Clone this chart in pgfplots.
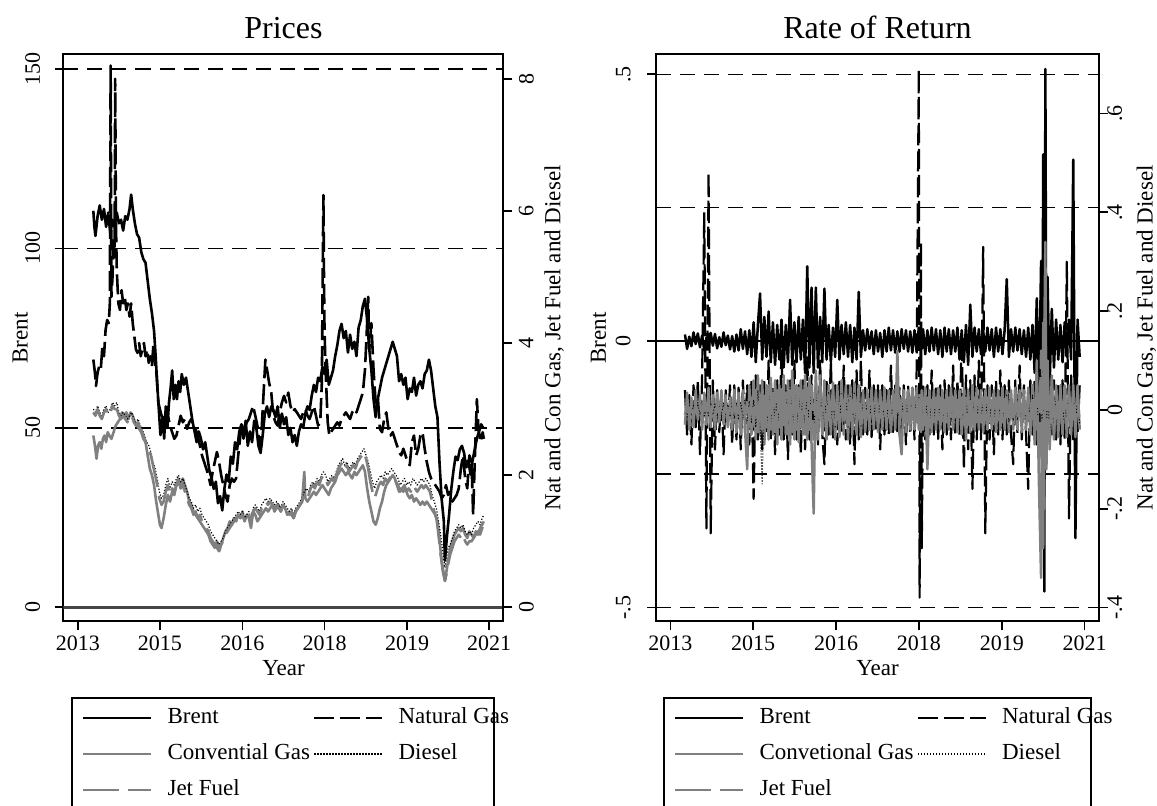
\documentclass[border=0pt]{standalone}
\usepackage{fontspec}
\setmainfont{Liberation Serif}
\usepackage{pgfplots}
\usepackage{pgfplotstable}
\pgfplotsset{compat=1.18}
\definecolor{sgray}{RGB}{128,128,128}
\definecolor{zgray}{RGB}{70,70,70}

% ---------------- Prices ----------------
\pgfplotstableread[row sep=\\]{x y\\
2013.70 110.5\\ 2013.72 106\\ 2013.74 103.5\\ 2013.78 109\\ 2013.82 112\\ 2013.86 108\\ 2013.90 111\\ 2013.94 106\\ 2013.98 110\\ 2014.02 104\\
2014.06 108\\ 2014.10 106\\ 2014.14 110\\ 2014.18 107\\ 2014.22 108\\ 2014.26 105\\ 2014.30 109\\ 2014.34 108\\ 2014.38 111\\ 2014.41 115\\
2014.44 111\\ 2014.48 107\\ 2014.52 104\\ 2014.56 103\\ 2014.60 99\\ 2014.64 97\\ 2014.68 96\\ 2014.72 91\\ 2014.76 86\\ 2014.80 82\\
2014.84 77\\ 2014.87 70\\ 2014.90 62\\ 2014.93 55\\ 2014.96 48\\ 2015.00 53\\ 2015.03 47\\ 2015.06 56\\ 2015.09 50\\ 2015.12 57\\
2015.15 61\\ 2015.18 66\\ 2015.21 58\\ 2015.24 62\\ 2015.27 58\\ 2015.30 63\\ 2015.33 60\\ 2015.36 65\\ 2015.40 62\\ 2015.44 64\\
2015.48 60\\ 2015.52 56\\ 2015.56 52\\ 2015.60 49\\ 2015.64 46\\ 2015.68 49\\ 2015.72 47\\ 2015.76 44\\ 2015.80 46\\ 2015.84 42\\
2015.88 38\\ 2015.92 36\\ 2015.96 33\\ 2016.00 35\\ 2016.04 29\\ 2016.08 31\\ 2016.12 27\\ 2016.16 33\\ 2016.20 37\\ 2016.24 35\\
2016.28 42\\ 2016.32 40\\ 2016.36 46\\ 2016.40 44\\ 2016.44 49\\ 2016.48 51\\ 2016.52 47\\ 2016.56 52\\ 2016.60 45\\ 2016.64 49\\
2016.68 46\\ 2016.72 52\\ 2016.76 50\\ 2016.80 45\\ 2016.84 43\\ 2016.88 48\\ 2016.92 54\\ 2016.96 56\\ 2017.00 53\\ 2017.04 56\\
2017.08 55\\ 2017.12 53\\ 2017.16 56\\ 2017.20 50\\ 2017.24 54\\ 2017.28 51\\ 2017.32 53\\ 2017.36 48\\ 2017.40 50\\ 2017.44 46\\
2017.48 48\\ 2017.52 45\\ 2017.56 49\\ 2017.60 51\\ 2017.64 50\\ 2017.68 54\\ 2017.72 56\\ 2017.76 55\\ 2017.80 59\\ 2017.84 62\\
2017.88 60\\ 2017.92 64\\ 2017.96 63\\ 2018.00 67\\ 2018.04 65\\ 2018.08 69\\ 2018.12 62\\ 2018.16 64\\ 2018.20 66\\ 2018.24 70\\
2018.28 73\\ 2018.32 77\\ 2018.36 79\\ 2018.40 75\\ 2018.44 77\\ 2018.48 71\\ 2018.52 76\\ 2018.56 72\\ 2018.60 74\\ 2018.64 70\\
2018.68 78\\ 2018.72 80\\ 2018.76 84\\ 2018.80 86\\ 2018.84 80\\ 2018.88 72\\ 2018.92 66\\ 2018.96 58\\ 2019.00 53\\ 2019.04 58\\
2019.08 61\\ 2019.12 64\\ 2019.16 66\\ 2019.20 68\\ 2019.24 70\\ 2019.28 72\\ 2019.32 74\\ 2019.36 72\\ 2019.40 70\\ 2019.44 63\\
2019.48 65\\ 2019.52 62\\ 2019.56 64\\ 2019.60 58\\ 2019.64 61\\ 2019.68 60\\ 2019.72 64\\ 2019.76 59\\ 2019.80 62\\ 2019.84 63\\
2019.88 61\\ 2019.92 65\\ 2019.96 66\\ 2020.00 69\\ 2020.04 66\\ 2020.08 61\\ 2020.12 56\\ 2020.16 53\\ 2020.20 40\\ 2020.24 30\\
2020.28 24\\ 2020.30 13\\ 2020.34 20\\ 2020.38 26\\ 2020.42 33\\ 2020.46 38\\ 2020.50 42\\ 2020.54 41\\ 2020.58 44\\ 2020.62 45\\
2020.66 43\\ 2020.70 39\\ 2020.74 41\\ 2020.78 37\\ 2020.82 41\\ 2020.86 44\\ 2020.90 47\\ 2020.94 49\\ 2020.98 51\\ 2021.02 50\\
}\brentP

\pgfplotstableread[row sep=\\]{x y\\
2013.70 3.75\\ 2013.73 3.55\\ 2013.75 3.35\\ 2013.78 3.55\\ 2013.81 3.65\\ 2013.84 3.6\\ 2013.87 3.95\\ 2013.90 3.8\\ 2013.93 4.2\\ 2013.96 4.35\\
2013.99 4.3\\ 2014.01 4.6\\ 2014.025 8.2\\ 2014.04 4.7\\ 2014.06 5.0\\ 2014.08 5.6\\ 2014.10 5.3\\ 2014.11 8.0\\ 2014.125 5.8\\ 2014.14 5.1\\
2014.17 4.6\\ 2014.20 4.5\\ 2014.23 4.8\\ 2014.26 4.6\\ 2014.29 4.7\\ 2014.32 4.5\\ 2014.35 4.6\\ 2014.38 4.4\\ 2014.41 4.6\\ 2014.44 4.3\\
2014.47 4.1\\ 2014.50 3.9\\ 2014.53 3.85\\ 2014.56 4.0\\ 2014.59 3.8\\ 2014.62 3.9\\ 2014.65 4.0\\ 2014.68 3.8\\ 2014.71 3.9\\ 2014.74 3.7\\
2014.77 3.8\\ 2014.80 3.65\\ 2014.83 4.0\\ 2014.86 3.7\\ 2014.89 3.5\\ 2014.92 3.1\\ 2014.95 3.0\\ 2014.98 2.9\\ 2015.02 2.95\\ 2015.06 2.8\\
2015.10 2.9\\ 2015.14 2.75\\ 2015.18 2.65\\ 2015.22 2.55\\ 2015.26 2.6\\ 2015.30 2.75\\ 2015.34 2.9\\ 2015.38 2.8\\ 2015.42 2.85\\ 2015.46 2.7\\
2015.50 2.8\\ 2015.54 2.85\\ 2015.58 2.75\\ 2015.62 2.7\\ 2015.66 2.6\\ 2015.70 2.45\\ 2015.74 2.3\\ 2015.78 2.2\\ 2015.82 2.1\\ 2015.86 2.0\\
2015.90 1.85\\ 2015.94 2.05\\ 2015.98 2.2\\ 2016.02 2.35\\ 2016.06 2.2\\ 2016.10 2.0\\ 2016.14 1.85\\ 2016.18 1.7\\ 2016.22 1.6\\ 2016.26 1.85\\
2016.30 1.95\\ 2016.34 1.9\\ 2016.38 1.95\\ 2016.42 2.3\\ 2016.46 2.6\\ 2016.50 2.75\\ 2016.54 2.7\\ 2016.58 2.8\\ 2016.62 2.85\\ 2016.66 2.95\\
2016.70 3.05\\ 2016.74 2.9\\ 2016.78 2.75\\ 2016.82 2.45\\ 2016.86 2.7\\ 2016.90 3.3\\ 2016.93 3.75\\ 2016.96 3.6\\ 2017.00 3.4\\ 2017.04 3.25\\
2017.08 2.9\\ 2017.12 2.8\\ 2017.16 2.75\\ 2017.20 2.95\\ 2017.24 3.1\\ 2017.28 3.2\\ 2017.32 3.1\\ 2017.36 3.25\\ 2017.40 3.05\\ 2017.44 2.95\\
2017.48 3.0\\ 2017.52 2.95\\ 2017.56 2.9\\ 2017.60 2.85\\ 2017.64 2.95\\ 2017.68 3.0\\ 2017.72 2.9\\ 2017.76 2.85\\ 2017.80 2.95\\ 2017.84 3.05\\
2017.88 2.9\\ 2017.92 2.75\\ 2017.96 2.8\\ 2017.99 3.4\\ 2018.01 5.5\\ 2018.02 6.24\\ 2018.03 5.0\\ 2018.04 4.2\\ 2018.06 3.6\\ 2018.08 3.2\\
2018.10 2.8\\ 2018.13 2.6\\ 2018.16 2.65\\ 2018.20 2.7\\ 2018.24 2.75\\ 2018.28 2.8\\ 2018.32 2.75\\ 2018.36 2.85\\ 2018.40 2.9\\ 2018.44 2.95\\
2018.48 2.9\\ 2018.52 2.85\\ 2018.56 2.95\\ 2018.60 3.0\\ 2018.64 2.95\\ 2018.68 3.05\\ 2018.72 3.15\\ 2018.76 3.25\\ 2018.80 3.6\\ 2018.84 4.3\\
2018.86 4.7\\ 2018.88 3.9\\ 2018.92 4.3\\ 2018.96 3.6\\ 2019.00 3.1\\ 2019.04 3.2\\ 2019.08 2.7\\ 2019.12 2.65\\ 2019.16 2.85\\ 2019.20 2.95\\
2019.24 2.7\\ 2019.28 2.6\\ 2019.32 2.65\\ 2019.36 2.55\\ 2019.40 2.45\\ 2019.44 2.35\\ 2019.48 2.3\\ 2019.52 2.4\\ 2019.56 2.3\\ 2019.60 2.2\\
2019.64 2.15\\ 2019.68 2.5\\ 2019.72 2.6\\ 2019.76 2.3\\ 2019.80 2.4\\ 2019.84 2.6\\ 2019.88 2.65\\ 2019.92 2.4\\ 2019.96 2.2\\ 2020.00 2.05\\
2020.04 1.95\\ 2020.08 1.9\\ 2020.12 1.85\\ 2020.16 1.8\\ 2020.20 1.75\\ 2020.24 1.65\\ 2020.28 1.7\\ 2020.32 1.85\\ 2020.36 1.7\\ 2020.40 1.75\\
2020.44 1.6\\ 2020.48 1.65\\ 2020.52 1.7\\ 2020.56 1.8\\ 2020.60 2.1\\ 2020.64 2.3\\ 2020.68 1.95\\ 2020.72 1.8\\ 2020.76 2.3\\ 2020.80 2.2\\
2020.83 1.4\\ 2020.86 2.2\\ 2020.90 3.15\\ 2020.93 2.7\\ 2020.97 2.5\\ 2021.01 2.65\\ 2021.03 2.55\\
}\ngP

\pgfplotstableread[row sep=\\]{x y\\
2013.70 2.6\\ 2013.73 2.45\\ 2013.76 2.25\\ 2013.79 2.45\\ 2013.82 2.5\\ 2013.85 2.4\\ 2013.88 2.55\\ 2013.91 2.6\\ 2013.94 2.5\\ 2013.97 2.65\\
2014.00 2.6\\ 2014.04 2.55\\ 2014.08 2.65\\ 2014.12 2.75\\ 2014.16 2.8\\ 2014.20 2.85\\ 2014.24 2.95\\ 2014.28 2.9\\ 2014.32 2.95\\ 2014.36 2.85\\
2014.40 2.95\\ 2014.44 2.9\\ 2014.48 2.8\\ 2014.52 2.75\\ 2014.56 2.7\\ 2014.60 2.65\\ 2014.64 2.55\\ 2014.68 2.5\\ 2014.72 2.3\\ 2014.76 2.1\\
2014.80 2.0\\ 2014.84 1.85\\ 2014.88 1.6\\ 2014.92 1.4\\ 2014.95 1.25\\ 2014.98 1.2\\ 2015.02 1.35\\ 2015.06 1.55\\ 2015.10 1.7\\ 2015.14 1.6\\
2015.18 1.75\\ 2015.22 1.7\\ 2015.26 1.85\\ 2015.30 1.95\\ 2015.34 1.8\\ 2015.38 1.95\\ 2015.42 1.85\\ 2015.46 1.75\\ 2015.50 1.6\\ 2015.54 1.55\\
2015.58 1.45\\ 2015.62 1.4\\ 2015.66 1.35\\ 2015.70 1.3\\ 2015.74 1.25\\ 2015.78 1.2\\ 2015.82 1.15\\ 2015.86 1.1\\ 2015.90 1.0\\ 2015.94 0.95\\
2015.98 0.9\\ 2016.02 1.0\\ 2016.06 0.85\\ 2016.10 0.95\\ 2016.14 1.05\\ 2016.18 1.15\\ 2016.22 1.2\\ 2016.26 1.3\\ 2016.30 1.25\\ 2016.34 1.35\\
2016.38 1.3\\ 2016.42 1.4\\ 2016.46 1.35\\ 2016.50 1.45\\ 2016.54 1.3\\ 2016.58 1.4\\ 2016.62 1.35\\ 2016.66 1.2\\ 2016.70 1.45\\ 2016.74 1.4\\
2016.78 1.3\\ 2016.82 1.35\\ 2016.86 1.4\\ 2016.90 1.45\\ 2016.94 1.5\\ 2016.98 1.45\\ 2017.02 1.5\\ 2017.06 1.55\\ 2017.10 1.45\\ 2017.14 1.5\\
2017.18 1.55\\ 2017.22 1.45\\ 2017.26 1.55\\ 2017.30 1.5\\ 2017.34 1.4\\ 2017.38 1.45\\ 2017.42 1.4\\ 2017.46 1.35\\ 2017.50 1.45\\ 2017.54 1.5\\
2017.58 1.55\\ 2017.62 1.6\\ 2017.66 2.05\\ 2017.68 1.65\\ 2017.72 1.6\\ 2017.76 1.65\\ 2017.80 1.7\\ 2017.84 1.75\\ 2017.88 1.7\\ 2017.92 1.75\\
2017.96 1.8\\ 2018.00 1.85\\ 2018.04 1.8\\ 2018.08 1.75\\ 2018.12 1.7\\ 2018.16 1.8\\ 2018.20 1.85\\ 2018.24 1.9\\ 2018.28 2.0\\ 2018.32 2.05\\
2018.36 2.1\\ 2018.40 2.05\\ 2018.44 2.0\\ 2018.48 2.05\\ 2018.52 2.0\\ 2018.56 1.95\\ 2018.60 2.05\\ 2018.64 2.0\\ 2018.68 2.05\\ 2018.72 2.1\\
2018.76 2.15\\ 2018.80 2.05\\ 2018.84 1.8\\ 2018.88 1.6\\ 2018.92 1.45\\ 2018.96 1.3\\ 2019.00 1.25\\ 2019.04 1.35\\ 2019.08 1.5\\ 2019.12 1.6\\
2019.16 1.75\\ 2019.20 1.85\\ 2019.24 1.9\\ 2019.28 1.95\\ 2019.32 2.0\\ 2019.36 1.95\\ 2019.40 1.85\\ 2019.44 1.75\\ 2019.48 1.8\\ 2019.52 1.75\\
2019.56 1.8\\ 2019.60 1.7\\ 2019.64 1.65\\ 2019.68 1.7\\ 2019.72 1.6\\ 2019.76 1.65\\ 2019.80 1.6\\ 2019.84 1.55\\ 2019.88 1.6\\ 2019.92 1.55\\
2019.96 1.6\\ 2020.00 1.55\\ 2020.04 1.5\\ 2020.08 1.45\\ 2020.12 1.4\\ 2020.16 1.3\\ 2020.20 1.0\\ 2020.24 0.7\\ 2020.28 0.5\\ 2020.30 0.4\\
2020.33 0.55\\ 2020.36 0.7\\ 2020.40 0.9\\ 2020.44 1.0\\ 2020.48 1.1\\ 2020.52 1.15\\ 2020.56 1.2\\ 2020.60 1.15\\ 2020.64 1.2\\ 2020.68 1.1\\
2020.72 1.05\\ 2020.76 1.15\\ 2020.80 1.1\\ 2020.84 1.05\\ 2020.88 1.15\\ 2020.92 1.1\\ 2020.96 1.2\\ 2021.00 1.25\\ 2021.03 1.3\\
}\cgP

\pgfplotstableread[row sep=\\]{x di jf\\
2013.70 3.0 2.95\\ 2013.74 2.95 2.9\\ 2013.78 3.05 3.0\\ 2013.82 2.95 2.9\\ 2013.86 2.9 2.85\\ 2013.90 3.0 2.95\\ 2013.94 3.05 3.0\\ 2013.98 2.95 2.9\\
2014.02 3.0 2.95\\ 2014.06 3.1 3.05\\ 2014.10 3.05 3.0\\ 2014.14 3.1 3.0\\ 2014.18 2.95 2.9\\ 2014.22 2.9 2.85\\ 2014.26 2.95 2.9\\ 2014.30 2.9 2.85\\
2014.34 2.85 2.8\\ 2014.38 2.9 2.9\\ 2014.42 2.95 2.9\\ 2014.46 2.85 2.8\\ 2014.50 2.8 2.75\\ 2014.54 2.85 2.8\\ 2014.58 2.75 2.7\\ 2014.62 2.7 2.65\\
2014.66 2.6 2.55\\ 2014.70 2.5 2.45\\ 2014.74 2.45 2.4\\ 2014.78 2.35 2.3\\ 2014.82 2.2 2.15\\ 2014.86 2.1 2.0\\ 2014.90 1.95 1.85\\ 2014.94 1.75 1.65\\
2014.98 1.65 1.55\\ 2015.02 1.7 1.6\\ 2015.06 1.85 1.75\\ 2015.10 1.95 1.85\\ 2015.14 1.8 1.7\\ 2015.18 1.9 1.8\\ 2015.22 1.85 1.75\\ 2015.26 1.95 1.85\\
2015.30 2.0 1.9\\ 2015.34 1.9 1.8\\ 2015.38 1.95 1.85\\ 2015.42 1.85 1.75\\ 2015.46 1.75 1.65\\ 2015.50 1.65 1.55\\ 2015.54 1.6 1.5\\ 2015.58 1.5 1.4\\
2015.62 1.55 1.45\\ 2015.66 1.45 1.35\\ 2015.70 1.5 1.4\\ 2015.74 1.4 1.3\\ 2015.78 1.35 1.25\\ 2015.82 1.3 1.2\\ 2015.86 1.25 1.15\\ 2015.90 1.15 1.05\\
2015.94 1.1 1.0\\ 2015.98 1.05 0.95\\ 2016.02 1.0 0.9\\ 2016.06 0.95 0.85\\ 2016.10 1.0 0.95\\ 2016.14 1.05 1.0\\ 2016.18 1.15 1.1\\ 2016.22 1.2 1.15\\
2016.26 1.25 1.2\\ 2016.30 1.3 1.25\\ 2016.34 1.35 1.3\\ 2016.38 1.4 1.35\\ 2016.42 1.45 1.4\\ 2016.46 1.4 1.35\\ 2016.50 1.45 1.4\\ 2016.54 1.35 1.3\\
2016.58 1.4 1.35\\ 2016.62 1.45 1.4\\ 2016.66 1.35 1.3\\ 2016.70 1.5 1.45\\ 2016.74 1.55 1.5\\ 2016.78 1.5 1.45\\ 2016.82 1.45 1.4\\ 2016.86 1.55 1.5\\
2016.90 1.6 1.55\\ 2016.94 1.65 1.6\\ 2016.98 1.6 1.55\\ 2017.02 1.65 1.6\\ 2017.06 1.6 1.55\\ 2017.10 1.55 1.5\\ 2017.14 1.6 1.55\\ 2017.18 1.55 1.5\\
2017.22 1.5 1.45\\ 2017.26 1.6 1.55\\ 2017.30 1.55 1.5\\ 2017.34 1.5 1.45\\ 2017.38 1.45 1.4\\ 2017.42 1.5 1.45\\ 2017.46 1.4 1.35\\ 2017.50 1.5 1.45\\
2017.54 1.55 1.5\\ 2017.58 1.6 1.55\\ 2017.62 1.65 1.6\\ 2017.66 1.75 1.75\\ 2017.70 1.8 1.75\\ 2017.74 1.75 1.7\\ 2017.78 1.85 1.8\\ 2017.82 1.9 1.85\\
2017.86 1.85 1.8\\ 2017.90 1.95 1.9\\ 2017.94 1.9 1.85\\ 2017.98 2.0 1.95\\ 2018.02 2.05 2.0\\ 2018.06 2.0 1.95\\ 2018.10 1.9 1.85\\ 2018.14 1.95 1.9\\
2018.18 2.0 1.95\\ 2018.22 1.95 1.9\\ 2018.26 2.05 2.0\\ 2018.30 2.15 2.1\\ 2018.34 2.2 2.15\\ 2018.38 2.25 2.2\\ 2018.42 2.15 2.1\\ 2018.46 2.2 2.15\\
2018.50 2.1 2.05\\ 2018.54 2.15 2.1\\ 2018.58 2.2 2.15\\ 2018.62 2.15 2.1\\ 2018.66 2.25 2.2\\ 2018.70 2.3 2.25\\ 2018.74 2.35 2.3\\ 2018.78 2.4 2.35\\
2018.82 2.3 2.25\\ 2018.86 2.2 2.1\\ 2018.90 2.05 1.9\\ 2018.94 1.9 1.75\\ 2018.98 1.8 1.65\\ 2019.02 1.9 1.75\\ 2019.06 1.95 1.85\\ 2019.10 2.0 1.9\\
2019.14 1.95 1.85\\ 2019.18 2.05 1.95\\ 2019.22 2.0 1.9\\ 2019.26 2.05 1.95\\ 2019.30 2.1 2.0\\ 2019.34 2.05 1.95\\ 2019.38 2.0 1.9\\ 2019.42 1.95 1.85\\
2019.46 1.85 1.75\\ 2019.50 1.9 1.8\\ 2019.54 1.95 1.85\\ 2019.58 1.85 1.75\\ 2019.62 1.9 1.8\\ 2019.66 1.85 1.75\\ 2019.70 1.95 1.85\\ 2019.74 1.9 1.8\\
2019.78 1.85 1.75\\ 2019.82 1.9 1.8\\ 2019.86 1.95 1.85\\ 2019.90 1.9 1.8\\ 2019.94 1.95 1.85\\ 2019.98 1.9 1.8\\ 2020.02 1.85 1.75\\ 2020.06 1.7 1.6\\
2020.10 1.6 1.45\\ 2020.14 1.5 1.35\\ 2020.18 1.3 1.1\\ 2020.22 1.1 0.8\\ 2020.26 0.85 0.55\\ 2020.30 0.6 0.4\\ 2020.33 0.75 0.5\\ 2020.36 0.9 0.65\\
2020.40 0.95 0.8\\ 2020.44 1.05 0.9\\ 2020.48 1.15 1.0\\ 2020.52 1.2 1.05\\ 2020.56 1.25 1.1\\ 2020.60 1.2 1.05\\ 2020.64 1.25 1.1\\ 2020.68 1.15 1.0\\
2020.72 1.1 0.95\\ 2020.76 1.15 1.0\\ 2020.80 1.1 1.0\\ 2020.84 1.2 1.05\\ 2020.88 1.25 1.1\\ 2020.92 1.3 1.15\\ 2020.96 1.25 1.1\\ 2021.00 1.35 1.2\\
2021.03 1.4 1.25\\
}\djP

% ---------------- Returns ----------------
\pgfplotstableread[row sep=\\]{x br ng cg di jf\\
2013.68 0.012 0.04 -0.03 0.012 -0.01\\
2013.72 -0.015 -0.05 0.035 -0.014 0.015\\
2013.76 0.008 0.03 -0.04 0.009 -0.012\\
2013.80 -0.01 -0.07 0.025 -0.012 0.013\\
2013.84 0.016 0.05 -0.035 0.01 -0.016\\
2013.88 -0.006 -0.035 0.04 -0.008 0.01\\
2013.92 0.014 0.06 -0.02 0.015 -0.014\\
2013.96 -0.012 -0.09 0.03 -0.01 0.012\\
2014.00 0.01 0.07 -0.04 0.012 -0.01\\
2014.04 -0.018 0.40 0.035 -0.015 0.018\\
2014.08 0.006 -0.24 -0.03 0.009 -0.012\\
2014.12 -0.012 0.48 0.045 -0.012 0.016\\
2014.16 0.015 -0.25 -0.035 0.014 -0.013\\
2014.20 -0.009 0.06 0.03 -0.01 0.01\\
2014.24 0.013 -0.08 -0.04 0.012 -0.014\\
2014.28 -0.014 0.04 0.035 -0.013 0.012\\
2014.32 0.007 -0.045 -0.025 0.008 -0.009\\
2014.36 -0.011 0.035 0.04 -0.011 0.013\\
2014.40 0.016 -0.09 -0.03 0.014 -0.011\\
2014.44 -0.008 0.04 0.03 -0.009 0.01\\
2014.48 0.01 -0.035 -0.035 0.011 -0.014\\
2014.52 -0.016 0.05 0.025 -0.014 0.012\\
2014.56 0.009 -0.07 -0.04 0.01 -0.01\\
2014.60 -0.02 0.05 0.04 -0.018 0.02\\
2014.64 0.012 -0.06 -0.045 0.015 -0.017\\
2014.68 -0.018 0.045 0.035 -0.02 0.016\\
2014.72 0.022 -0.08 -0.05 0.017 -0.02\\
2014.76 -0.015 0.06 0.04 -0.016 0.018\\
2014.80 0.018 -0.045 -0.04 0.02 -0.015\\
2014.84 -0.025 0.05 -0.12 -0.022 0.02\\
2014.88 0.02 -0.07 0.05 0.018 -0.022\\
2014.92 -0.03 0.06 -0.05 -0.025 0.024\\
2014.96 0.035 -0.18 0.06 0.02 -0.03\\
2015.00 -0.04 0.07 -0.06 -0.035 0.04\\
2015.04 0.03 -0.06 0.07 0.04 -0.045\\
2015.08 0.089 0.05 -0.05 -0.03 0.035\\
2015.12 -0.035 -0.08 0.06 -0.15 -0.05\\
2015.16 0.045 0.06 -0.07 0.035 0.04\\
2015.20 -0.03 -0.05 0.05 -0.04 -0.035\\
2015.24 0.055 0.10 -0.06 0.03 0.05\\
2015.28 -0.04 -0.06 0.065 -0.035 -0.04\\
2015.32 0.035 0.05 -0.05 0.04 0.035\\
2015.36 -0.045 -0.09 0.06 -0.03 -0.045\\
2015.40 0.03 0.06 -0.07 0.035 0.04\\
2015.44 -0.035 -0.05 0.05 -0.04 -0.035\\
2015.48 0.04 0.12 -0.06 0.03 0.045\\
2015.52 -0.05 -0.06 0.07 -0.035 -0.04\\
2015.56 0.03 0.05 -0.05 0.04 0.035\\
2015.60 -0.04 -0.1 0.06 -0.03 -0.05\\
2015.64 0.077 0.06 -0.07 0.045 0.04\\
2015.68 -0.045 -0.05 0.08 -0.04 -0.045\\
2015.72 0.035 0.1 -0.06 0.035 0.05\\
2015.76 -0.04 -0.06 0.05 -0.04 -0.04\\
2015.80 0.045 0.05 -0.065 0.03 0.045\\
2015.84 -0.035 -0.09 0.06 -0.045 -0.035\\
2015.88 0.04 0.06 -0.05 0.04 0.04\\
2015.92 -0.06 -0.08 0.07 -0.035 -0.05\\
2015.96 0.14 0.11 -0.06 0.04 0.045\\
2016.00 -0.05 -0.06 0.065 -0.04 -0.04\\
2016.04 0.10 0.07 -0.07 0.045 0.05\\
2016.08 -0.06 -0.05 -0.21 -0.05 -0.06\\
2016.12 0.10 0.06 0.08 0.045 0.05\\
2016.16 -0.05 -0.07 -0.06 -0.04 -0.045\\
2016.20 0.045 0.1 0.07 0.04 0.04\\
2016.24 -0.04 -0.05 -0.05 -0.035 -0.045\\
2016.28 0.098 -0.11 0.06 0.04 0.04\\
2016.32 -0.035 0.06 -0.06 -0.03 -0.035\\
2016.36 0.03 -0.05 0.05 0.035 0.03\\
2016.40 -0.04 0.1 -0.05 -0.03 -0.03\\
2016.44 0.025 -0.06 0.055 0.03 0.035\\
2016.48 -0.03 0.05 -0.06 -0.035 -0.03\\
2016.52 0.077 -0.07 0.05 0.03 0.03\\
2016.56 -0.035 0.06 -0.055 -0.03 -0.035\\
2016.60 0.03 -0.05 0.06 0.035 0.03\\
2016.64 -0.025 0.09 -0.05 -0.03 -0.03\\
2016.68 0.035 -0.06 0.05 0.03 0.035\\
2016.72 -0.03 0.05 -0.06 -0.035 -0.03\\
2016.76 0.03 -0.07 0.05 0.03 0.03\\
2016.80 -0.04 0.06 -0.05 -0.03 -0.035\\
2016.84 0.025 -0.11 0.055 0.035 0.03\\
2016.88 -0.035 0.08 -0.05 -0.03 -0.03\\
2016.92 0.092 -0.06 0.05 0.03 0.035\\
2016.96 -0.03 0.1 -0.055 -0.035 -0.03\\
2017.00 0.02 -0.05 0.04 0.02 0.025\\
2017.04 -0.018 0.045 -0.045 -0.02 -0.02\\
2017.08 0.022 -0.05 0.04 0.018 0.025\\
2017.12 -0.015 0.08 -0.04 -0.022 -0.025\\
2017.16 0.018 -0.055 0.045 0.02 0.02\\
2017.20 -0.025 0.05 -0.04 -0.018 -0.025\\
2017.24 0.02 -0.04 0.04 0.02 0.025\\
2017.28 -0.02 0.05 -0.045 -0.02 -0.02\\
2017.32 0.015 -0.08 0.04 0.022 0.025\\
2017.36 -0.03 0.05 -0.04 -0.02 -0.025\\
2017.40 0.02 -0.05 0.045 0.018 0.02\\
2017.44 -0.02 0.04 -0.04 -0.02 -0.025\\
2017.48 0.025 -0.05 0.04 0.02 0.025\\
2017.52 -0.018 0.09 -0.045 -0.022 -0.02\\
2017.56 0.02 -0.045 0.04 0.02 0.025\\
2017.60 -0.022 0.05 -0.04 -0.018 -0.025\\
2017.64 0.018 -0.05 0.12 0.02 0.03\\
2017.68 -0.02 0.045 -0.05 -0.025 -0.03\\
2017.72 0.022 -0.05 -0.09 0.02 0.025\\
2017.76 -0.015 0.05 0.04 -0.02 -0.025\\
2017.80 0.02 -0.07 -0.045 0.02 0.02\\
2017.84 -0.02 0.05 0.04 -0.022 -0.025\\
2017.88 0.018 -0.05 -0.04 0.02 0.025\\
2017.92 -0.022 0.045 0.045 -0.02 -0.02\\
2017.96 0.02 -0.06 -0.04 0.02 0.025\\
2018.00 -0.02 0.08 0.045 -0.022 -0.025\\
2018.04 0.025 0.69 -0.04 0.025 0.03\\
2018.055 -0.01 -0.38 0.03 -0.02 -0.02\\
2018.08 0.02 0.34 -0.045 0.02 0.025\\
2018.095 -0.015 -0.28 0.04 -0.02 -0.03\\
2018.12 0.022 0.05 -0.04 0.022 0.025\\
2018.16 -0.025 -0.06 0.045 -0.02 -0.02\\
2018.20 0.02 0.05 -0.12 0.02 0.025\\
2018.24 -0.02 -0.05 0.04 -0.022 -0.025\\
2018.28 0.025 0.08 -0.045 0.02 0.02\\
2018.32 -0.018 -0.05 0.04 -0.02 -0.025\\
2018.36 0.022 0.05 -0.04 0.022 0.025\\
2018.40 -0.025 -0.06 0.045 -0.02 -0.02\\
2018.44 0.02 0.05 -0.04 0.02 0.025\\
2018.48 -0.03 -0.08 0.04 -0.022 -0.025\\
2018.52 0.025 0.06 -0.045 0.02 0.02\\
2018.56 -0.02 -0.05 0.04 -0.02 -0.025\\
2018.60 0.022 0.05 -0.04 0.022 0.025\\
2018.64 -0.025 -0.06 0.045 -0.02 -0.02\\
2018.68 0.02 0.09 -0.04 0.02 0.025\\
2018.72 -0.02 -0.05 0.04 -0.022 -0.025\\
2018.76 0.025 0.06 -0.045 0.02 0.02\\
2018.80 -0.035 -0.05 0.04 -0.02 -0.025\\
2018.84 0.02 0.15 -0.05 0.022 0.025\\
2018.88 -0.04 -0.12 0.045 -0.025 -0.03\\
2018.92 0.03 0.07 -0.06 0.02 0.025\\
2018.96 -0.045 -0.08 0.04 -0.025 -0.03\\
2019.00 0.068 0.06 -0.045 0.022 0.025\\
2019.04 -0.03 -0.16 0.05 -0.025 -0.03\\
2019.08 0.025 0.07 -0.04 0.02 0.025\\
2019.12 -0.02 -0.06 0.045 -0.022 -0.025\\
2019.16 0.022 0.1 -0.04 0.02 0.02\\
2019.20 -0.025 -0.06 0.04 -0.02 -0.025\\
2019.24 0.02 0.33 -0.045 0.022 0.025\\
2019.28 -0.02 -0.25 0.04 -0.02 -0.02\\
2019.32 0.025 0.05 -0.04 0.02 0.025\\
2019.36 -0.018 -0.06 0.045 -0.022 -0.025\\
2019.40 0.022 0.05 -0.04 0.02 0.02\\
2019.44 -0.03 -0.09 0.04 -0.02 -0.025\\
2019.48 0.025 0.06 -0.045 0.022 0.025\\
2019.52 -0.02 -0.05 0.04 -0.02 -0.02\\
2019.56 0.022 0.08 -0.04 0.02 0.025\\
2019.60 -0.025 -0.06 0.045 -0.022 -0.025\\
2019.64 0.02 0.05 -0.04 0.02 0.02\\
2019.68 0.116 -0.05 0.04 0.03 0.025\\
2019.72 -0.03 0.06 -0.045 -0.025 -0.025\\
2019.76 0.022 -0.05 0.04 0.02 0.02\\
2019.80 -0.02 -0.11 -0.04 -0.022 -0.025\\
2019.84 0.025 0.06 0.045 0.02 0.025\\
2019.88 -0.018 -0.05 -0.04 -0.02 -0.02\\
2019.92 0.022 0.09 0.04 0.022 0.025\\
2019.96 -0.025 -0.06 -0.045 -0.02 -0.025\\
2020.00 0.02 0.05 0.04 0.02 0.02\\
2020.04 -0.03 -0.05 -0.04 -0.022 -0.03\\
2020.08 0.025 -0.16 0.045 0.025 0.025\\
2020.12 -0.035 0.06 -0.05 -0.025 -0.03\\
2020.16 0.03 -0.05 0.05 0.03 0.03\\
2020.20 -0.06 0.06 -0.07 -0.04 -0.05\\
2020.24 0.08 -0.07 0.10 0.05 0.07\\
2020.28 -0.12 0.06 -0.15 -0.06 -0.10\\
2020.32 0.15 -0.07 -0.34 0.07 0.12\\
2020.34 -0.2 0.05 0.12 -0.08 -0.15\\
2020.36 0.35 -0.06 -0.28 0.08 0.18\\
2020.38 -0.47 0.06 0.15 -0.09 -0.2\\
2020.40 0.51 -0.05 0.34 0.1 0.25\\
2020.42 -0.15 0.05 -0.12 -0.07 -0.1\\
2020.44 0.12 -0.06 0.1 0.06 0.08\\
2020.48 -0.08 0.06 -0.08 -0.05 -0.07\\
2020.52 0.06 -0.05 0.07 0.04 0.06\\
2020.56 -0.05 0.06 -0.06 -0.04 -0.05\\
2020.60 0.04 -0.06 0.05 0.035 0.04\\
2020.64 -0.035 0.05 -0.055 -0.03 -0.035\\
2020.68 0.03 -0.07 0.05 0.03 0.04\\
2020.72 -0.04 0.06 -0.05 -0.035 -0.035\\
2020.76 0.035 -0.06 0.05 0.03 0.035\\
2020.80 -0.03 0.30 -0.055 -0.03 -0.04\\
2020.84 0.04 -0.22 0.05 0.035 0.035\\
2020.88 -0.035 0.07 -0.05 -0.03 -0.035\\
2020.92 0.34 -0.06 0.05 0.03 0.04\\
2020.96 -0.37 0.06 -0.055 -0.035 -0.035\\
2021.00 0.04 -0.05 0.05 0.03 0.035\\
2021.04 -0.03 0.05 -0.04 -0.03 -0.03\\
}\ret

\pgfplotsset{
  brS/.style={black, line width=1.3pt, line join=round},
  ngS/.style={black, line width=1.3pt, line join=round, dash pattern=on 10pt off 3pt},
  cgS/.style={sgray, line width=1.3pt, line join=round},
  diS/.style={black, line width=0.6pt, line join=round, dash pattern=on 0.6pt off 0.9pt},
  jfS/.style={sgray, line width=1.3pt, line join=round, dash pattern=on 18pt off 4.5pt},
  brR/.style={black, line width=1.25pt, line join=round},
  ngR/.style={black, line width=1.1pt, line join=round, dash pattern=on 10pt off 3pt},
  cgR/.style={sgray, line width=1.25pt, line join=round},
  diR/.style={black, line width=0.5pt, line join=round, dash pattern=on 0.6pt off 0.9pt},
  jfR/.style={sgray, line width=1.25pt, line join=round, dash pattern=on 18pt off 4.5pt},
  panel/.style={
    scale only axis, height=283.5pt, anchor=north west,
    xmin=2013.14, xmax=2021.40,
    tick align=outside, major tick length=4.5pt,
    every tick/.append style={black, line width=0.9pt},
    axis line style={black, line width=1pt},
    xtick={2013.41,2014.95,2016.50,2018.04,2019.59,2021.13},
    xticklabels={2013,2015,2016,2018,2019,2021},
    ticklabel style={font=\fontsize{11}{13}\selectfont},
    label style={font=\fontsize{11.5}{13}\selectfont},
    title style={at={(0.5,1)}, anchor=base, yshift=2pt, font=\fontsize{16}{19}\selectfont},
    xticklabel style={anchor=base, inner sep=0pt, yshift=-10pt},
    xlabel style={at={(axis description cs:0.5,0)}, anchor=base, yshift=-26.9pt},
    yticklabel style={rotate=90, anchor=south, inner sep=0pt},
    major grid style={black, line width=0.7pt, dash pattern=on 7.5pt off 4.5pt},
  },
  rpanel/.style={
    scale only axis, height=283.5pt, anchor=north west,
    xmin=2013.14, xmax=2021.40,
    axis x line=none, axis y line*=right,
    tick align=outside, major tick length=4.5pt,
    every tick/.append style={black, line width=0.9pt},
    axis line style={black, line width=1pt},
    ticklabel style={font=\fontsize{11}{13}\selectfont},
    label style={font=\fontsize{11.5}{13}\selectfont},
    yticklabel style={rotate=90, anchor=north, inner sep=0pt},
    legend columns=2, legend cell align=left,
    legend image code/.code={\draw[##1] (0pt,0pt) -- (34pt,0pt);},
    legend style={draw=none, fill=none, inner sep=0pt, outer sep=0pt, anchor=north west,
      font=\fontsize{11.5}{13}\selectfont, row sep=7.5pt, column sep=7.5pt,
      nodes={inner sep=0pt, text height=8.2pt, text depth=2.3pt},
      /tikz/every even column/.append style={column sep=1.5pt}},
  },
}

\begin{document}
\begin{tikzpicture}
% ===== Left panel: Prices =====
\begin{axis}[panel, at={(31.75pt,-27.15pt)}, width=220pt,
  ymin=-3.9, ymax=154.1, ytick={0,50,100,150}, yticklabels={0,50,100,150},
  xtick pos=left, ytick pos=left, ymajorgrids,
  yticklabel shift=7pt,
  title={Prices}, xlabel={Year}, ylabel={Brent},
  ylabel style={at={(axis description cs:-0.0984,0.5)}, anchor=center},
]
\addplot[brS] table[x=x,y=y] {\brentP};
\draw[zgray, line width=1.3pt] (axis cs:2013.14,0) -- (axis cs:2021.40,0);
\end{axis}
\begin{axis}[rpanel, at={(31.75pt,-27.15pt)}, width=220pt,
  ymin=-0.212, ymax=8.37, ytick={0,2,4,6,8}, yticklabels={0,2,4,6,8},
  yticklabel shift=3pt,
  ylabel={Nat and Con Gas, Jet Fuel and Diesel},
  ylabel style={at={(axis description cs:1.1152,0.5)}, anchor=center},
  legend style={at={(axis description cs:0.042,-0.152)}},
]
\addlegendimage{brS}\addlegendentry{Brent}
\addplot[ngS] table[x=x,y=y] {\ngP}; \addlegendentry{Natural Gas}
\addplot[cgS] table[x=x,y=y] {\cgP}; \addlegendentry{Convential Gas}
\addplot[diS] table[x=x,y=di] {\djP}; \addlegendentry{Diesel}
\addplot[jfS] table[x=x,y=jf] {\djP}; \addlegendentry{Jet Fuel}
\end{axis}

% ===== Right panel: Rate of Return =====
\begin{axis}[panel, at={(328pt,-27.15pt)}, width=221.5pt,
  ymin=-0.526, ymax=0.5376, ytick={-0.5,0,0.5}, yticklabels={-.5,0,.5},
  xtick pos=left, ytick pos=left, ymajorgrids,
  yticklabel shift=8pt,
  title={Rate of Return}, xlabel={Year}, ylabel={Brent},
  ylabel style={at={(axis description cs:-0.1298,0.5)}, anchor=center},
]
\draw[black, line width=0.7pt, dash pattern=on 7.5pt off 4.5pt] (axis cs:2013.14,0.25) -- (axis cs:2021.40,0.25);
\draw[black, line width=0.7pt, dash pattern=on 7.5pt off 4.5pt] (axis cs:2013.14,-0.25) -- (axis cs:2021.40,-0.25);
\addplot[brR] table[x=x,y=br] {\ret};
\draw[black, line width=0.8pt] (axis cs:2013.14,0) -- (axis cs:2021.40,0);
\end{axis}
\begin{axis}[rpanel, at={(328pt,-27.15pt)}, width=221.5pt,
  ymin=-0.428, ymax=0.720, ytick={-0.4,-0.2,0,0.2,0.4,0.6}, yticklabels={-.4,-.2,0,.2,.4,.6},
  yticklabel shift=-0.5pt,
  ylabel={Nat and Con Gas, Jet Fuel and Diesel},
  ylabel style={at={(axis description cs:1.107,0.5)}, anchor=center},
  legend style={at={(axis description cs:0.0406,-0.152)}},
]
\addlegendimage{brS}\addlegendentry{Brent}
\addlegendimage{ngS}\addlegendentry{Natural Gas}
\addlegendimage{cgS}\addlegendentry{Convetional Gas}
\addlegendimage{diS}\addlegendentry{Diesel}
\addlegendimage{jfS}\addlegendentry{Jet Fuel}
\addplot[ngR, forget plot] table[x=x,y=ng] {\ret};
\addplot[cgR, forget plot] table[x=x,y=cg] {\ret};
\addplot[diR, forget plot] table[x=x,y=di] {\ret};
\addplot[jfR, forget plot] table[x=x,y=jf] {\ret};
\end{axis}

% legend frames
\draw[black, line width=0.6pt] (36pt,-349pt) rectangle (247pt,-415pt);
\draw[black, line width=0.6pt] (332pt,-349pt) rectangle (545.5pt,-415pt);

\pgfresetboundingbox
\useasboundingbox (0pt,0pt) rectangle (578.5pt,-402.5pt);
\end{tikzpicture}
\end{document}
